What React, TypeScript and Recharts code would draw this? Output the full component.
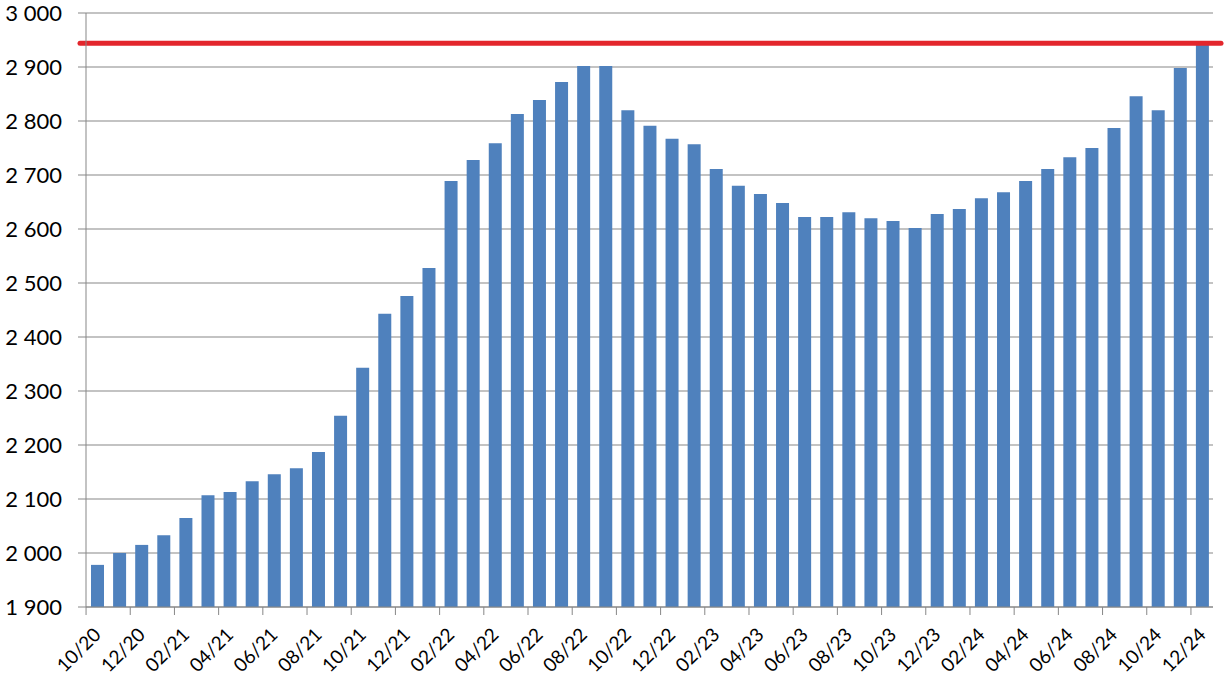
import { BarChart, Bar, XAxis, YAxis, CartesianGrid, ReferenceLine } from "recharts";

const months = [
  "10/20", "11/20", "12/20",
  "01/21", "02/21", "03/21", "04/21", "05/21", "06/21", "07/21", "08/21", "09/21", "10/21", "11/21", "12/21",
  "01/22", "02/22", "03/22", "04/22", "05/22", "06/22", "07/22", "08/22", "09/22", "10/22", "11/22", "12/22",
  "01/23", "02/23", "03/23", "04/23", "05/23", "06/23", "07/23", "08/23", "09/23", "10/23", "11/23", "12/23",
  "01/24", "02/24", "03/24", "04/24", "05/24", "06/24", "07/24", "08/24", "09/24", "10/24", "11/24", "12/24",
];

const values = [
  1978, 2000, 2015,
  2033, 2065, 2107, 2113, 2133, 2146, 2157, 2187, 2254, 2343, 2443, 2476,
  2528, 2689, 2728, 2759, 2813, 2839, 2872, 2902, 2902, 2820, 2791, 2767,
  2757, 2711, 2680, 2665, 2648, 2622, 2622, 2631, 2620, 2615, 2602, 2628,
  2637, 2657, 2668, 2689, 2711, 2733, 2750, 2787, 2846, 2820, 2898, 2941,
];

const yTicks = [1900, 2000, 2100, 2200, 2300, 2400, 2500, 2600, 2700, 2800, 2900, 3000];
const limit = 2944;

const data = months.map((m, i) => ({ month: m, value: values[i] }));

const GRID = "#878787";
const HALF_BAND = 11;

const fmt = (v: number) => `${Math.floor(v / 1000)} ${String(v % 1000).padStart(3, "0")}`;

// tick mark sits between categories, label is rotated under the bar
const XTick = (props: any) => {
  const { x, y, payload } = props;
  return (
    <g>
      <line x1={x - HALF_BAND} y1={y} x2={x - HALF_BAND} y2={y + 8} stroke={GRID} strokeWidth={1} />
      <text
        x={x + 5}
        y={y + 29}
        textAnchor="end"
        fontSize={19}
        fontFamily="Lato"
        fill="#000"
        transform={`rotate(-45, ${x + 5}, ${y + 29})`}
      >
        {payload.value}
      </text>
    </g>
  );
};

const RedLine = (props: any) => {
  const { x1, y1, x2, y2 } = props;
  return <line x1={x1 - 6} y1={y1} x2={x2 + 8} y2={y2} stroke="#e3262c" strokeWidth={5} strokeLinecap="round" />;
};

export default function App() {
  return (
    <div style={{ position: "absolute", left: 0, top: 0, background: "#fff" }}>
      <BarChart
        width={1226}
        height={676}
        data={data}
        margin={{ top: 13, right: 13, left: 0, bottom: 0 }}
      >
        <CartesianGrid horizontal vertical={false} stroke={GRID} strokeWidth={1} />
        <XAxis
          dataKey="month"
          interval={1}
          height={69}
          tickSize={0}
          tickMargin={0}
          tickLine={false}
          axisLine={{ stroke: GRID }}
          tick={<XTick />}
        />
        <YAxis
          domain={[1900, 3000]}
          ticks={yTicks}
          width={86}
          tickSize={8}
          tickMargin={16}
          tickLine={{ stroke: GRID }}
          axisLine={{ stroke: GRID }}
          tickFormatter={fmt}
          tick={{ fontSize: 22, fontFamily: "Lato", fill: "#000" }}
        />
        <Bar dataKey="value" fill="#4f81bd" barSize={13} isAnimationActive={false} />
        <ReferenceLine y={limit} shape={<RedLine />} />
      </BarChart>
    </div>
  );
}
